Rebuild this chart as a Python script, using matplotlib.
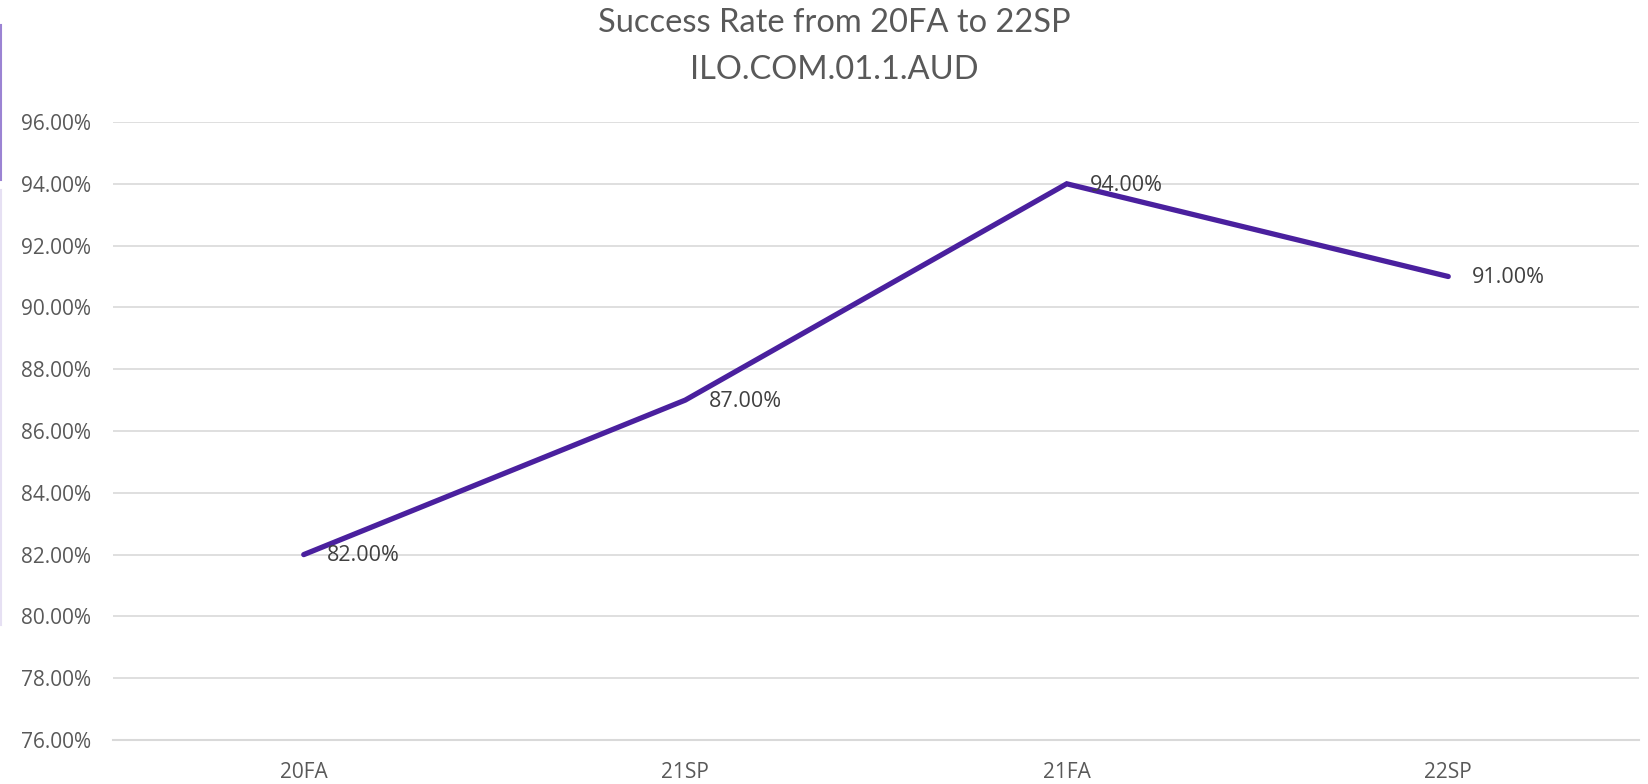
import matplotlib
matplotlib.use("Agg")
import matplotlib.pyplot as plt
from matplotlib.lines import Line2D
from matplotlib.ticker import FuncFormatter, MultipleLocator

terms = ["20FA", "21SP", "21FA", "22SP"]
success_rate = [82.0, 87.0, 94.0, 91.0]
title_line1 = "Success Rate from 20FA to 22SP"
title_line2 = "ILO.COM.01.1.AUD"

W, H = 1649, 784
fig = plt.figure(figsize=(W / 100, H / 100), dpi=100)
ax = fig.add_axes([113 / W, 1 - 740 / H, (1639 - 113) / W, (740 - 122) / H])

line_color = "#4A209E"
x = list(range(len(terms)))
ax.plot(x, success_rate, color=line_color, lw=3.8, solid_capstyle="round",
        solid_joinstyle="miter", zorder=3)

for xi, v in zip(x, success_rate):
    ax.annotate(f"{v:.2f}%", (xi, v), xytext=(17, -1), textcoords="offset points",
                ha="left", va="center", fontsize=15.5, color="#404040",
                family="Open Sans", zorder=4)

ax.set_xlim(-0.5, len(terms) - 0.5)
ax.set_ylim(76, 96)
ax.yaxis.set_major_locator(MultipleLocator(2))
ax.yaxis.set_major_formatter(FuncFormatter(lambda v, p: f"{v:.2f}%"))
ax.set_xticks(x)
ax.set_xticklabels(terms)
ax.grid(axis="y", color="#D9D9D9", lw=1.2, zorder=0)
ax.set_axisbelow(True)
for s in ["top", "right", "left"]:
    ax.spines[s].set_visible(False)
ax.spines["bottom"].set_color("#D9D9D9")
ax.spines["bottom"].set_linewidth(1.5)
ax.tick_params(axis="both", length=0, colors="#595959", labelsize=15)
ax.tick_params(axis="y", pad=16)
ax.tick_params(axis="x", pad=16)
for lab in ax.get_xticklabels() + ax.get_yticklabels():
    lab.set_family("Open Sans")

fig.text(834 / W, 1 - 32 / H, title_line1, ha="center", va="baseline",
         fontsize=23.5, color="#595959", family="Lato")
fig.text(834 / W, 1 - 79 / H, title_line2, ha="center", va="baseline",
         fontsize=23.5, color="#595959", family="Lato")

# left border artefact of the screenshot
fig.add_artist(Line2D([1 / W, 1 / W], [1 - 25 / H, 1 - 180 / H],
                      transform=fig.transFigure, color="#9B83D3", lw=1.5))
fig.add_artist(Line2D([1 / W, 1 / W], [1 - 190 / H, 1 - 625 / H],
                      transform=fig.transFigure, color="#E6E0F3", lw=1.5))

fig.savefig("out.png", dpi=100)
